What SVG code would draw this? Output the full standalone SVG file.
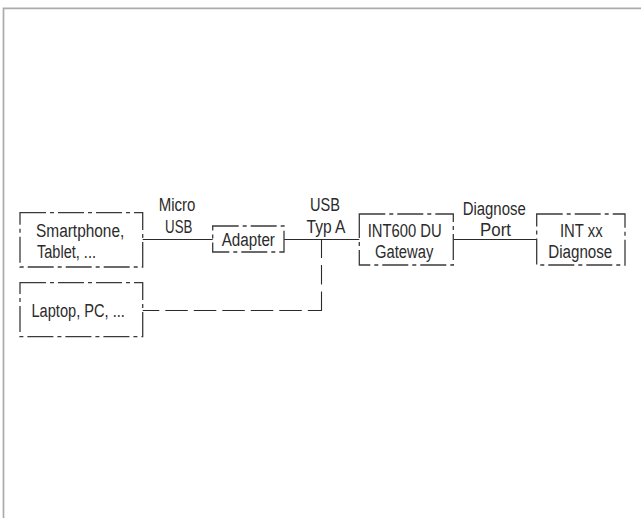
<svg xmlns="http://www.w3.org/2000/svg" width="641" height="518" viewBox="0 0 641 518">
<style>
.frame{fill:none;stroke:#ababab;stroke-width:1.7}
.box{fill:none;stroke:#3a3a3a;stroke-width:1.3;stroke-dasharray:26 4 4 4}
.wire{fill:none;stroke:#2a2a2a;stroke-width:1.1}
.t{font-family:"Liberation Sans",Arial,sans-serif;font-size:18.8px;fill:#2b2b2b}
.m{text-anchor:middle}
</style>
<rect width="641" height="518" fill="#ffffff"/>
<path class="frame" d="M3.5 518 V8.3 H641"/>
<g id="connectors">
<line class="wire" x1="142.7" y1="239.5" x2="212.7" y2="239.5"/>
<line class="wire" x1="284" y1="239.5" x2="359.3" y2="239.5"/>
<line class="wire" x1="453.3" y1="239.5" x2="536.7" y2="239.5"/>
<line class="wire" x1="142.7" y1="310.5" x2="321.5" y2="310.5" stroke-dasharray="22.5 6" stroke-dashoffset="5.9"/>
<line class="wire" x1="321.5" y1="311" x2="321.5" y2="239.5" stroke-dasharray="19.5 7"/>
<text class="t m" x="177" y="211" textLength="36.7" lengthAdjust="spacingAndGlyphs">Micro</text>
<text class="t m" x="178.7" y="233" textLength="27.3" lengthAdjust="spacingAndGlyphs">USB</text>
<text class="t m" x="325" y="211" textLength="30" lengthAdjust="spacingAndGlyphs">USB</text>
<text class="t m" x="326" y="233" textLength="39" lengthAdjust="spacingAndGlyphs">Typ A</text>
<text class="t m" x="494.2" y="215" textLength="63" lengthAdjust="spacingAndGlyphs">Diagnose</text>
<text class="t m" x="495.5" y="236" textLength="31" lengthAdjust="spacingAndGlyphs">Port</text>
</g>
<g id="smartphone">
<rect class="box" x="20" y="212.7" width="122.7" height="54.3"/>
<text class="t" x="36" y="236.7" textLength="88.3" lengthAdjust="spacingAndGlyphs">Smartphone,</text>
<text class="t" x="37" y="258.3" textLength="59" lengthAdjust="spacingAndGlyphs">Tablet, ...</text>
</g>
<g id="laptop">
<rect class="box" x="20" y="282.7" width="122.7" height="54"/>
<text class="t" x="31.5" y="316.7" textLength="93.3" lengthAdjust="spacingAndGlyphs">Laptop, PC, ...</text>
</g>
<g id="adapter">
<rect class="box" x="212.7" y="226" width="71.3" height="26"/>
<text class="t m" x="248.3" y="246" textLength="53.3" lengthAdjust="spacingAndGlyphs">Adapter</text>
</g>
<g id="gateway">
<rect class="box" x="359.3" y="214" width="94" height="51"/>
<text class="t m" x="404.7" y="236.7" textLength="74" lengthAdjust="spacingAndGlyphs">INT600 DU</text>
<text class="t m" x="404.2" y="258.3" textLength="58.3" lengthAdjust="spacingAndGlyphs">Gateway</text>
</g>
<g id="diagnose">
<rect class="box" x="536.7" y="214" width="88.3" height="51"/>
<text class="t m" x="581.3" y="236.7" textLength="42.7" lengthAdjust="spacingAndGlyphs">INT xx</text>
<text class="t m" x="580.3" y="258.3" textLength="64" lengthAdjust="spacingAndGlyphs">Diagnose</text>
</g>
</svg>
